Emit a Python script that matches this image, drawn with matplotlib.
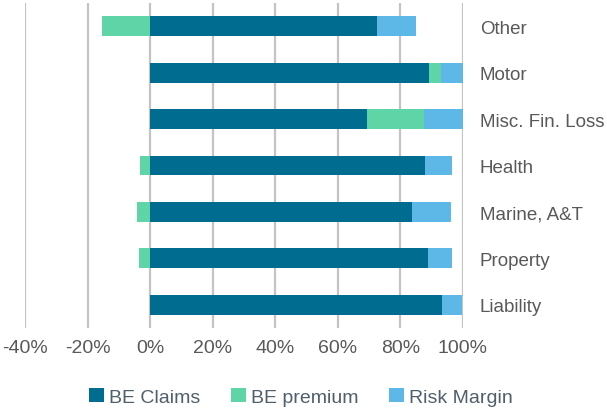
import numpy as np
import matplotlib.pyplot as plt

plt.rcParams['font.family'] = ['Liberation Sans', 'DejaVu Sans']

categories = ['Liability', 'Property', 'Marine, A&T', 'Health', 'Misc. Fin. Loss', 'Motor', 'Other']
be_claims = [93.2, 88.7, 83.8, 87.9, 69.4, 89.2, 72.6]
be_premium = [0.0, -3.7, -4.2, -3.4, 18.1, 3.9, -15.4]
risk_margin = [6.5, 7.8, 12.3, 8.6, 12.5, 6.9, 12.4]

c_claims = '#006c8f'
c_prem = '#5fd4a6'
c_rm = '#5db8e8'
txt = '#595959'

claims = np.array(be_claims)
prem = np.array(be_premium)
rm = np.array(risk_margin)
y = np.arange(len(categories))

fig = plt.figure(figsize=(6.07, 4.10), dpi=100)
ax = fig.add_axes([25/607, 1 - 329/410, (463 - 25)/607, 325/410])

h = 0.43
ax.barh(y, claims, height=h, color=c_claims, label='BE Claims', zorder=3)
prem_left = np.where(prem >= 0, claims, 0)
ax.barh(y, prem, left=prem_left, height=h, color=c_prem, label='BE premium', zorder=3)
ax.barh(y, rm, left=claims + np.clip(prem, 0, None), height=h, color=c_rm, label='Risk Margin', zorder=3)

ax.set_xlim(-40, 100)
ax.set_ylim(-0.5, len(categories) - 0.5)
xt = np.arange(-40, 101, 20)
ax.set_xticks(xt)
ax.set_xticklabels([f'{v}%' for v in xt], fontsize=14, color=txt)
for v in xt:
    ax.axvline(v, color='#c3c3c3', lw=1.6, zorder=1)

ax.yaxis.tick_right()
ax.set_yticks(y)
ax.set_yticklabels(categories, fontsize=13.5, color=txt)
ax.tick_params(axis='y', length=0, pad=12)
ax.tick_params(axis='x', length=0, pad=8)
for s in ax.spines.values():
    s.set_visible(False)

fig.legend(*ax.get_legend_handles_labels(), loc='center', bbox_to_anchor=(301/607, 1 - 398/410),
           ncol=3, frameon=False, fontsize=14, handlelength=0.75, handleheight=0.75,
           handletextpad=0.25, columnspacing=1.6, labelcolor='#4f5f6b')

fig.savefig('out.png', dpi=100)
